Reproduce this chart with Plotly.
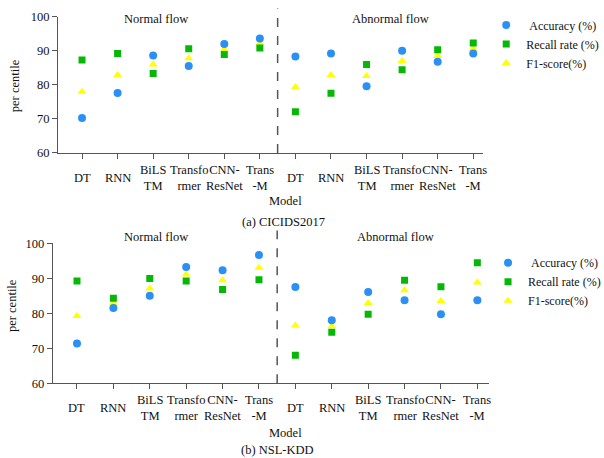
import plotly.graph_objects as go

# ---------------- data ----------------
tick_labels = ["DT", "RNN", "BiLS<br>TM", "Transfo<br>rmer", "CNN-<br>ResNet", "Trans<br>-M",
               "DT", "RNN", "BiLS<br>TM", "Transfo<br>rmer", "CNN-<br>ResNet", "Trans<br>-M"]
positions = list(range(12))

# (a) CICIDS2017 : normal flow (6 models) + abnormal flow (6 models)
cic_accuracy = [70.3, 77.6, 88.6, 85.5, 92.0, 93.6, 88.3, 89.2, 79.6, 90.0, 86.8, 89.2]
cic_recall   = [87.3, 89.2, 83.3, 90.6, 88.9, 90.8, 72.1, 77.5, 86.0, 84.4, 90.3, 92.3]
cic_f1       = [78.0, 82.9, 86.0, 87.8, 90.4, 92.2, 79.4, 82.9, 82.6, 87.0, 88.5, 90.7]

# (b) NSL-KDD
nsl_accuracy = [71.4, 81.5, 85.0, 93.2, 92.3, 96.6, 87.5, 78.0, 86.1, 83.7, 79.7, 83.7]
nsl_recall   = [89.2, 84.3, 89.9, 89.2, 86.8, 89.6, 68.0, 74.6, 79.7, 89.4, 87.6, 94.4]
nsl_f1       = [79.2, 82.9, 87.1, 91.1, 89.4, 93.0, 76.5, 76.3, 82.9, 86.6, 83.5, 88.8]

series_names = ["\u00a0Accuracy (%)", "Recall rate (%)", "F1-score(%)"]

# ---------------- style ----------------
FONT = "Liberation Serif, Times New Roman, serif"
BLUE = "#2b90f5"
GREEN = "#06b806"
YELLOW = "#ffff00"
AX = "#555555"
FS = 12.5

fig = go.Figure()

def add_panel(acc, rec, f1, xa, ya, legend):
    # F1 drawn first (under), then accuracy, then recall
    fig.add_trace(go.Scatter(x=positions, y=f1, mode="markers", name=series_names[2],
                             marker=dict(symbol="triangle-up", size=8, color=YELLOW),
                             xaxis=xa, yaxis=ya, legend=legend, legendrank=3))
    fig.add_trace(go.Scatter(x=positions, y=acc, mode="markers", name=series_names[0],
                             marker=dict(symbol="circle", size=8, color=BLUE),
                             xaxis=xa, yaxis=ya, legend=legend, legendrank=1))
    fig.add_trace(go.Scatter(x=positions, y=rec, mode="markers", name=series_names[1],
                             marker=dict(symbol="square", size=7, color=GREEN),
                             xaxis=xa, yaxis=ya, legend=legend, legendrank=2))

add_panel(cic_accuracy, cic_recall, cic_f1, "x", "y", "legend")
add_panel(nsl_accuracy, nsl_recall, nsl_f1, "x2", "y2", "legend2")

xcommon = dict(tickmode="array", tickvals=positions, showticklabels=False,
               showline=True, linecolor=AX, linewidth=1.2, ticks="outside",
               ticklen=5, tickcolor=AX, showgrid=False, zeroline=False)
ycommon = dict(range=[60, 100], tickvals=[60, 70, 80, 90, 100],
               showline=True, linecolor=AX, linewidth=1.2, ticks="outside",
               ticklen=5, tickcolor=AX, showgrid=False, zeroline=False,
               tickfont=dict(family=FONT, size=FS, color="#111"))

legcommon = dict(font=dict(family=FONT, size=12, color="#111"), bgcolor="rgba(0,0,0,0)",
                 xanchor="left", yanchor="top", tracegroupgap=0)

fig.update_layout(
    width=604, height=458,
    margin=dict(l=0, r=0, t=0, b=0, autoexpand=False),
    paper_bgcolor="white", plot_bgcolor="white",
    font=dict(family=FONT, size=FS, color="#111"),
    xaxis=dict(domain=[0.096, 0.800], range=[-0.676, 11.28], anchor="y", **xcommon),
    yaxis=dict(domain=[0.666, 0.9635], anchor="x", **ycommon),
    xaxis2=dict(domain=[0.0877, 0.8096], range=[-0.66, 11.32], anchor="y2", **xcommon),
    yaxis2=dict(domain=[0.163, 0.469], anchor="x2", **ycommon),
    legend=dict(x=0.805, y=0.977, **legcommon),
    legend2=dict(x=0.808, y=0.458, **legcommon),
    showlegend=True,
)

# dashed separators between normal and abnormal flow
fig.add_shape(type="line", xref="x", yref="y domain", x0=5.5, x1=5.5, y0=0, y1=1.06,
              line=dict(color=AX, width=1.5, dash="dash"))
fig.add_shape(type="line", xref="x2", yref="y2 domain", x0=5.5, x1=5.5, y0=0, y1=1.09,
              line=dict(color=AX, width=1.5, dash="dash"))

# category labels, vertically centred under each tick
for xa, ylab in (("x", 0.611), ("x2", 0.109)):
    for pos, lab in zip(positions, tick_labels):
        fig.add_annotation(text=lab, x=pos, y=ylab, xref=xa, yref="paper", showarrow=False,
                           xanchor="center", yanchor="middle",
                           font=dict(family=FONT, size=FS, color="#111"))

def ann(text, x, y, size=FS, angle=0):
    fig.add_annotation(text=text, x=x, y=y, xref="paper", yref="paper", showarrow=False,
                       xanchor="center", yanchor="middle", textangle=angle,
                       font=dict(family=FONT, size=size, color="#111"))

ann("Normal flow", 0.258, 0.9585)
ann("Abnormal flow", 0.646, 0.9585)
ann("Normal flow", 0.258, 0.4825)
ann("Abnormal flow", 0.654, 0.4825)
ann("Model", 0.4735, 0.561)
ann("(a) CICIDS2017", 0.470, 0.516)
ann("Model", 0.472, 0.0546)
ann("(b) NSL-KDD", 0.459, 0.0175)
ann("per centile", 0.025, 0.812, angle=-90)
ann("per centile", 0.020, 0.332, angle=-90)

fig.write_html("out.html")
